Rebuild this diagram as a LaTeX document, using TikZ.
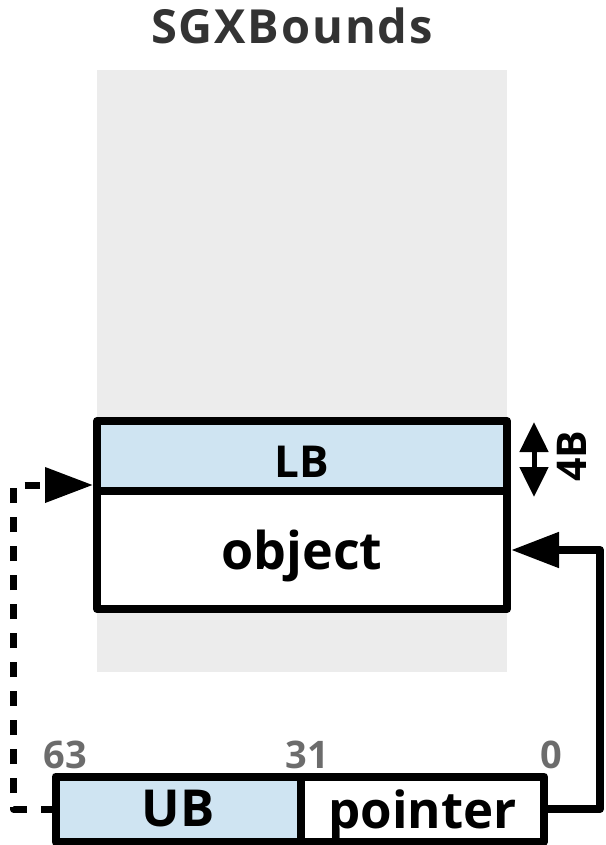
\documentclass[tikz,border=0pt]{standalone}
\usepackage{fontspec}
\setmainfont{Open Sans}
\usetikzlibrary{arrows.meta,positioning}

\begin{document}
\begin{tikzpicture}[x=1pt,y=-1pt]

	\definecolor{boundblue}{RGB}{207,228,242}
	\definecolor{areagray}{RGB}{236,236,236}
	\definecolor{titlegray}{RGB}{51,51,51}
	\definecolor{bitgray}{RGB}{108,108,108}

	\useasboundingbox (0,0) rectangle (605,845);

	\tikzstyle{edge} = [draw,line width=8pt,line join=round]
	\tikzset{field/.style = {shape=rectangle,draw,line width=8pt,line join=round,outer sep=0pt,inner sep=0pt}}
	\tikzset{bit/.style = {bitgray,anchor=base,font=\fontsize{38}{38}\bfseries\selectfont}}
	\tikzset{bighead/.tip = {Triangle[length=48pt,width=34pt]}}

	\node[titlegray,anchor=base,font=\fontsize{47}{47}\bfseries\selectfont\addfontfeature{LetterSpace=4}] (title) at (292,44) {SGXBounds};
	\fill[areagray] (97,70) rectangle (507,672);

	% object with its lower bound in front
	\node[field,fill=boundblue,minimum width=410pt,minimum height=73pt,text height=39pt,text depth=0pt,font=\fontsize{44}{44}\bfseries\selectfont] (lb) at (302,457.5) {LB};
	\node[field,fill=white,minimum width=410pt,minimum height=118pt,below=-3pt of lb,text depth=0pt,font=\fontsize{52}{52}\bfseries\selectfont] (obj) {object};

	\coordinate (lbtop) at (534,422);
	\coordinate (lbbot) at (534,497);
	\draw[edge,line width=5pt,{Triangle[length=30pt,width=28pt]}-{Triangle[length=30pt,width=28pt]}] (lbtop) -- (lbbot);
	\node[rotate=90,font=\fontsize{41}{41}\bfseries\selectfont] (size) at (572,456) {4B};

	% the pointer word
	\node[field,fill=boundblue,minimum width=245.5pt,minimum height=65pt,font=\fontsize{51}{51}\bfseries\selectfont] (ub) at (178.25,809) {UB};
	\node[field,fill=white,minimum width=243pt,minimum height=65pt,right=0pt of ub,text depth=0pt,font=\fontsize{51}{51}\bfseries\selectfont] (ptr) {pointer};

	\node[bit] (b63) at (65.5,768) {63};
	\node[bit] (b31) at (307.5,768) {31};
	\node[bit] (b0) at (551.5,768) {0};

	\coordinate (dashtop) at (13.5,485);
	\draw[edge,-bighead,shorten >=4pt] (ptr.east) -- ++(56,0) |- (obj.east);
	\draw[edge,line width=7pt,dash pattern=on 15pt off 14pt,-bighead,shorten >=4pt] (ub.west) -| (dashtop) -- ([yshift=9pt]lb.south west);

\end{tikzpicture}
\end{document}
